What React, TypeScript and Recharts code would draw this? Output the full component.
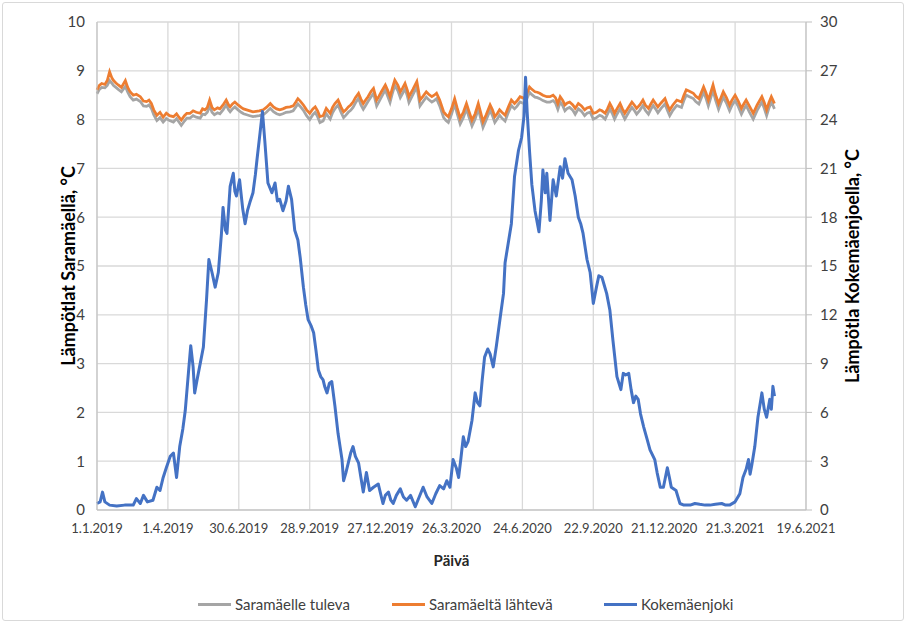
import React from "react";
import { LineChart, Line, XAxis, YAxis, CartesianGrid } from "recharts";

// days since 1.1.2019
const saraDays = [
  0, 3, 6, 10, 13, 16, 19, 21, 24, 27,
  31, 36, 39, 42, 46, 50, 55, 59, 63, 66,
  69, 72, 76, 80, 84, 88, 92, 97, 101, 104,
  107, 111, 114, 118, 122, 126, 131, 134, 137, 140,
  143, 146, 149, 153, 156, 160, 164, 167, 169, 172,
  175, 179, 183, 186, 190, 194, 198, 202, 206, 211,
  215, 220, 224, 228, 232, 236, 240, 245, 249, 252,
  255, 258, 262, 266, 270, 274, 277, 280, 283, 287,
  291, 296, 299, 302, 306, 310, 313, 316, 319, 322,
  325, 328, 332, 335, 338, 341, 344, 348, 351, 355,
  358, 361, 366, 369, 372, 375, 378, 382, 385, 388,
  391, 394, 396, 401, 406, 408, 410, 414, 418, 421,
  425, 428, 431, 435, 440, 443, 446, 450, 454, 457,
  461, 465, 469, 472, 476, 480, 484, 487, 490, 494,
  499, 502, 505, 508, 511, 514, 518, 522, 526, 530,
  533, 537, 540, 543, 546, 549, 552, 556, 559, 562,
  566, 571, 575, 579, 582, 585, 588, 591, 594, 597,
  600, 604, 607, 611, 615, 619, 622, 626, 630, 634,
  638, 641, 645, 648, 651, 654, 657, 660, 664, 667,
  670, 675, 679, 682, 685, 689, 693, 696, 700, 703,
  706, 709, 712, 716, 721, 724, 727, 731, 736, 739,
  742, 745, 748, 752, 757, 760, 764, 767, 770, 773,
  776, 779, 782, 785, 789, 792, 795, 799, 803, 806,
  810, 814, 818, 821, 824, 828, 833, 838, 844, 847,
  850, 853, 856, 858, 860,
];

// Saramäeltä lähtevä (orange)
const saraOut = [
  8.61, 8.7, 8.74, 8.72, 8.8, 8.98, 8.85, 8.8, 8.75, 8.71,
  8.66, 8.8, 8.66, 8.57, 8.5, 8.52, 8.47, 8.38, 8.37, 8.4,
  8.33, 8.2, 8.09, 8.15, 8.05, 8.13, 8.08, 8.06, 8.12, 8.05,
  7.99, 8.08, 8.13, 8.13, 8.18, 8.15, 8.13, 8.22, 8.2, 8.25,
  8.4, 8.25, 8.2, 8.24, 8.22, 8.3, 8.4, 8.3, 8.26, 8.32,
  8.36, 8.3, 8.25, 8.22, 8.2, 8.18, 8.16, 8.17, 8.18, 8.2,
  8.25, 8.33, 8.26, 8.22, 8.2, 8.22, 8.25, 8.26, 8.28, 8.35,
  8.43, 8.38, 8.3, 8.2, 8.13, 8.22, 8.26, 8.18, 8.06, 8.08,
  8.23, 8.13, 8.25, 8.33, 8.4, 8.25, 8.16, 8.2, 8.26, 8.3,
  8.36, 8.45, 8.54, 8.42, 8.33, 8.4, 8.47, 8.58, 8.64, 8.4,
  8.48, 8.57, 8.71, 8.6, 8.47, 8.65, 8.81, 8.7, 8.57, 8.65,
  8.74, 8.6, 8.47, 8.62, 8.78, 8.6, 8.4, 8.48, 8.57, 8.52,
  8.47, 8.5, 8.54, 8.4, 8.16, 8.1, 8.06, 8.22, 8.43, 8.25,
  8.03, 8.15, 8.33, 8.18, 7.99, 8.12, 8.33, 8.15, 7.96, 8.1,
  8.3, 8.2, 8.06, 8.12, 8.2, 8.15, 8.09, 8.25, 8.4, 8.33,
  8.38, 8.47, 8.45, 8.43, 8.55, 8.67, 8.62, 8.57, 8.56, 8.54,
  8.5, 8.47, 8.47, 8.5, 8.45, 8.33, 8.47, 8.4, 8.3, 8.34,
  8.36, 8.3, 8.23, 8.33, 8.28, 8.2, 8.24, 8.26, 8.13, 8.15,
  8.2, 8.18, 8.13, 8.22, 8.33, 8.24, 8.13, 8.22, 8.33, 8.22,
  8.13, 8.26, 8.36, 8.3, 8.23, 8.3, 8.4, 8.3, 8.23, 8.32,
  8.4, 8.33, 8.26, 8.34, 8.43, 8.3, 8.2, 8.3, 8.4, 8.38,
  8.36, 8.5, 8.61, 8.58, 8.54, 8.48, 8.43, 8.55, 8.67, 8.55,
  8.4, 8.55, 8.71, 8.52, 8.33, 8.45, 8.57, 8.45, 8.3, 8.4,
  8.5, 8.38, 8.23, 8.32, 8.4, 8.28, 8.13, 8.3, 8.47, 8.35,
  8.2, 8.35, 8.47, 8.4, 8.33,
];

// Saramäelle tuleva (grey)
const saraIn = [
  8.53, 8.62, 8.66, 8.65, 8.7, 8.8, 8.74, 8.7, 8.66, 8.62,
  8.57, 8.68, 8.56, 8.47, 8.4, 8.42, 8.37, 8.28, 8.27, 8.3,
  8.23, 8.1, 7.98, 8.04, 7.95, 8.02, 7.98, 7.95, 8.02, 7.95,
  7.88, 7.97, 8.03, 8.03, 8.08, 8.05, 8.03, 8.11, 8.1, 8.15,
  8.28, 8.15, 8.1, 8.14, 8.12, 8.2, 8.3, 8.2, 8.16, 8.22,
  8.26, 8.2, 8.15, 8.12, 8.1, 8.08, 8.06, 8.07, 8.08, 8.1,
  8.15, 8.23, 8.16, 8.12, 8.1, 8.12, 8.15, 8.16, 8.18, 8.25,
  8.32, 8.27, 8.19, 8.08, 8.0, 8.1, 8.15, 8.06, 7.94, 7.97,
  8.12, 8.01, 8.14, 8.22, 8.3, 8.14, 8.04, 8.09, 8.15, 8.19,
  8.25, 8.34, 8.44, 8.3, 8.21, 8.29, 8.37, 8.47, 8.54, 8.28,
  8.37, 8.46, 8.61, 8.48, 8.35, 8.54, 8.7, 8.59, 8.45, 8.54,
  8.63, 8.48, 8.35, 8.51, 8.67, 8.48, 8.28, 8.37, 8.46, 8.41,
  8.36, 8.39, 8.43, 8.28, 8.04, 7.98, 7.94, 8.11, 8.32, 8.13,
  7.91, 8.04, 8.22, 8.06, 7.87, 8.01, 8.22, 8.03, 7.84, 7.99,
  8.19, 8.08, 7.94, 8.01, 8.09, 8.03, 7.97, 8.14, 8.29, 8.22,
  8.27, 8.36, 8.34, 8.32, 8.44, 8.56, 8.51, 8.46, 8.45, 8.43,
  8.39, 8.36, 8.36, 8.39, 8.34, 8.21, 8.36, 8.29, 8.18, 8.23,
  8.25, 8.19, 8.11, 8.22, 8.17, 8.08, 8.13, 8.15, 8.01, 8.04,
  8.09, 8.07, 8.01, 8.11, 8.22, 8.13, 8.01, 8.11, 8.22, 8.11,
  8.01, 8.15, 8.25, 8.19, 8.11, 8.19, 8.29, 8.19, 8.11, 8.21,
  8.29, 8.22, 8.14, 8.23, 8.32, 8.19, 8.08, 8.19, 8.29, 8.27,
  8.25, 8.39, 8.5, 8.47, 8.43, 8.37, 8.32, 8.44, 8.56, 8.44,
  8.28, 8.44, 8.6, 8.41, 8.21, 8.34, 8.46, 8.34, 8.18, 8.29,
  8.39, 8.27, 8.11, 8.21, 8.29, 8.16, 8.01, 8.19, 8.36, 8.23,
  8.08, 8.24, 8.36, 8.29, 8.22,
];

// Kokemäenjoki (blue, right axis)
const riverDays = [
  0, 4, 7, 10, 16, 25, 35, 46, 50, 55,
  59, 64, 71, 76, 80, 84, 88, 93, 97, 101,
  105, 109, 112, 116, 119, 122, 124, 127, 131, 135,
  139, 142, 146, 150, 154, 158, 160, 163, 165, 169,
  173, 175, 177, 181, 185, 188, 191, 194, 198, 201,
  203, 207, 210, 213, 217, 222, 226, 229, 232, 236,
  240, 243, 247, 251, 255, 258, 262, 265, 268, 272,
  275, 278, 281, 284, 287, 289, 292, 295, 298, 302,
  306, 311, 313, 316, 319, 322, 325, 328, 332, 335,
  338, 342, 346, 351, 357, 363, 366, 370, 373, 376,
  380, 385, 389, 393, 398, 404, 409, 414, 419, 425,
  430, 435, 440, 444, 448, 452, 456, 459, 462, 465,
  468, 471, 476, 480, 483, 486, 489, 492, 496, 499,
  503, 507, 512, 516, 518, 522, 526, 530, 535, 539,
  542, 544, 546, 549, 552, 556, 561, 564, 566, 569,
  571, 575, 579, 583, 588, 591, 594, 598, 603, 607,
  611, 614, 617, 622, 626, 630, 634, 637, 641, 644,
  647, 651, 655, 660, 665, 668, 671, 675, 678, 681,
  684, 687, 690, 694, 698, 702, 708, 711, 715, 719,
  724, 727, 729, 735, 740, 745, 753, 759, 765, 772,
  778, 785, 793, 798, 803, 810, 816, 820, 824, 827,
  829, 831, 835, 839, 842, 844, 847, 850, 854, 856,
  858, 860,
];
const riverTemp = [
  0.4, 0.5, 1.1, 0.5, 0.3, 0.25, 0.3, 0.3, 0.7, 0.4,
  0.9, 0.5, 0.6, 1.4, 1.2, 2.0, 2.6, 3.3, 3.5, 2.0,
  3.9, 5.0, 6.1, 8.4, 10.1, 8.8, 7.2, 8.0, 9.0, 10.0,
  12.9, 15.4, 14.6, 13.7, 14.6, 17.0, 18.6, 17.2, 17.0, 19.9,
  20.7, 19.6, 19.3, 20.3, 18.5, 17.6, 18.4, 18.9, 19.5, 20.6,
  21.5, 23.2, 24.5, 22.7, 20.1, 19.5, 20.1, 19.0, 19.1, 18.4,
  19.0, 19.9, 19.1, 17.2, 16.6, 15.5, 13.7, 12.6, 11.7, 11.3,
  10.9, 9.8, 8.6, 8.2, 8.0, 7.6, 7.2, 7.8, 7.9, 6.4,
  4.7, 3.1, 1.8, 2.3, 2.9, 3.5, 3.9, 3.3, 2.9, 2.0,
  1.1, 2.3, 1.2, 1.4, 1.6, 0.4, 0.9, 1.1, 0.6, 0.4,
  0.9, 1.3, 0.8, 0.6, 0.9, 0.2, 0.8, 1.4, 0.8, 0.4,
  1.0, 1.5, 1.3, 1.8, 1.4, 3.1, 2.6, 2.0, 3.2, 4.5,
  3.9, 4.2, 5.5, 7.2, 6.6, 6.4, 8.0, 9.4, 9.9, 9.6,
  8.8, 10.1, 11.9, 13.3, 15.2, 16.4, 17.6, 20.5, 22.1, 22.9,
  24.2, 26.6, 24.5, 22.1, 20.0, 18.4, 17.1, 19.0, 20.9, 19.5,
  20.7, 17.8, 20.3, 19.3, 21.1, 20.4, 21.6, 20.7, 20.3, 19.3,
  18.0, 17.6, 17.0, 15.4, 14.6, 12.7, 13.7, 14.4, 14.3, 13.8,
  13.3, 12.3, 10.4, 8.2, 7.4, 8.4, 8.3, 8.4, 7.4, 6.6,
  7.0, 6.8, 5.9, 5.1, 4.4, 3.7, 3.1, 2.3, 1.4, 1.4,
  2.6, 1.9, 1.4, 1.2, 0.4, 0.3, 0.3, 0.4, 0.35, 0.3,
  0.3, 0.35, 0.4, 0.3, 0.3, 0.5, 1.0, 2.0, 2.5, 3.1,
  2.2, 2.7, 3.9, 5.7, 6.6, 7.2, 6.2, 5.7, 6.8, 6.2,
  7.6, 7.0,
];

const dayTicks = [0, 90, 180, 270, 360, 450, 540, 630, 720, 810, 900];
const leftTicks = [0, 1, 2, 3, 4, 5, 6, 7, 8, 9, 10];
const rightTicks = [0, 3, 6, 9, 12, 15, 18, 21, 24, 27, 30];

const saraData = saraDays.map((d, i) => ({ day: d, tuleva: saraIn[i], lahteva: saraOut[i] }));
const riverData = riverDays.map((d, i) => ({ day: d, joki: riverTemp[i] }));

const FONT = "Lato, 'Open Sans', sans-serif";
const GREY = "#a5a5a5";
const ORANGE = "#ed7d31";
const BLUE = "#4472c4";

function fmtDay(v: number) {
  const dt = new Date(2019, 0, 1 + v);
  return `${dt.getDate()}.${dt.getMonth() + 1}.${dt.getFullYear()}`;
}

const legendItems = [
  { name: "Saramäelle tuleva", color: GREY, left: 198 },
  { name: "Saramäeltä lähtevä", color: ORANGE, left: 392 },
  { name: "Kokemäenjoki", color: BLUE, left: 604 },
];

export default function App() {
  return (
    <div
      style={{
        position: "absolute",
        left: 0,
        top: 0,
        width: 908,
        height: 627,
        background: "#fff",
        fontFamily: FONT,
      }}
    >
      <div
        style={{
          position: "absolute",
          left: 2,
          top: 2,
          width: 902,
          height: 619,
          border: "1px solid #d9d9d9",
          borderRadius: 3,
          boxSizing: "border-box",
        }}
      />
      <LineChart width={908} height={627} margin={{ top: 22, right: 0, bottom: 57, left: 0 }}>
        <CartesianGrid stroke="#d9d9d9" strokeWidth={1.3} />
        <XAxis
          dataKey="day"
          type="number"
          domain={[0, 900]}
          ticks={dayTicks}
          tickFormatter={fmtDay}
          height={60}
          tickLine={false}
          tickSize={0}
          tickMargin={14}
          stroke="#bfbfbf"
          tick={{ fill: "#404040", fontSize: 13, fontFamily: FONT }}
          label={{
            content: ({ viewBox }: any) => (
              <text
                x={viewBox.x + viewBox.width / 2}
                y={viewBox.y + 56}
                textAnchor="middle"
                fontFamily={FONT}
                fontWeight="bold"
                fontSize={15}
                fill="#262626"
              >
                Päivä
              </text>
            ),
          }}
        />
        <YAxis
          yAxisId={0}
          domain={[0, 10]}
          ticks={leftTicks}
          width={97}
          tickLine={false}
          tickSize={0}
          tickMargin={12}
          stroke="#bfbfbf"
          tick={{ fill: "#404040", fontSize: 15, fontFamily: FONT }}
          label={{
            content: ({ viewBox }: any) => (
              <text
                transform={`translate(${viewBox.x + 68}, ${viewBox.y + viewBox.height / 2}) rotate(-90)`}
                textAnchor="middle"
                dominantBaseline="central"
                fontFamily={FONT}
                fontWeight="bold"
                fontSize={18}
                fill="#000"
              >
                Lämpötlat Saramäellä, °C
              </text>
            ),
          }}
        />
        <YAxis
          yAxisId="r"
          orientation="right"
          domain={[0, 30]}
          ticks={rightTicks}
          width={102}
          tickSize={6}
          tickMargin={8}
          stroke="#bfbfbf"
          tick={{ fill: "#404040", fontSize: 15, fontFamily: FONT }}
          label={{
            content: ({ viewBox }: any) => (
              <text
                transform={`translate(${viewBox.x + 46}, ${viewBox.y + viewBox.height / 2}) rotate(-90)`}
                textAnchor="middle"
                dominantBaseline="central"
                fontFamily={FONT}
                fontWeight="bold"
                fontSize={18}
                fill="#000"
              >
                Lämpötla Kokemäenjoella, °C
              </text>
            ),
          }}
        />
        <Line
          data={saraData}
          yAxisId={0}
          dataKey="tuleva"
          name="Saramäelle tuleva"
          stroke={GREY}
          strokeWidth={2.75}
          dot={false}
          isAnimationActive={false}
        />
        <Line
          data={saraData}
          yAxisId={0}
          dataKey="lahteva"
          name="Saramäeltä lähtevä"
          stroke={ORANGE}
          strokeWidth={2.75}
          dot={false}
          isAnimationActive={false}
        />
        <Line
          data={riverData}
          yAxisId="r"
          dataKey="joki"
          name="Kokemäenjoki"
          stroke={BLUE}
          strokeWidth={3}
          strokeLinejoin="round"
          dot={false}
          isAnimationActive={false}
        />
      </LineChart>
      {legendItems.map((it) => (
        <div
          key={it.name}
          style={{
            position: "absolute",
            left: it.left,
            top: 595,
            display: "flex",
            alignItems: "center",
            fontSize: 15,
            color: "#404040",
            whiteSpace: "nowrap",
          }}
        >
          <span style={{ display: "inline-block", width: 33, height: 3, background: it.color, marginRight: 4 }} />
          {it.name}
        </div>
      ))}
    </div>
  );
}
